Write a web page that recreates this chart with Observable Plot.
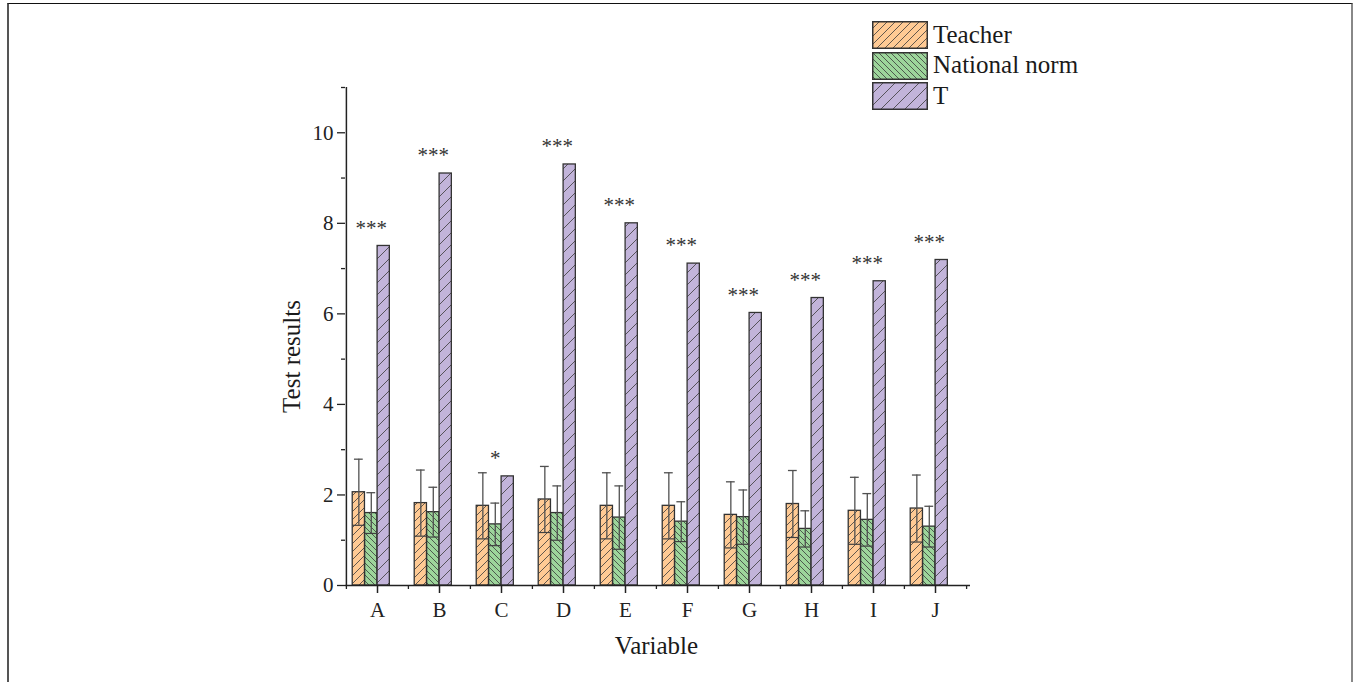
<!DOCTYPE html>
<html>
<head>
<meta charset="utf-8">
<script src="https://cdn.jsdelivr.net/npm/d3@7"></script>
<script src="https://cdn.jsdelivr.net/npm/@observablehq/plot@0.6"></script>
<style>
  html, body { margin: 0; padding: 0; background: #fff; }
  #wrap { position: relative; width: 1365px; height: 682px; overflow: hidden; font-family: 'Liberation Serif', 'Times New Roman', serif; }
  #frame { position: absolute; left: 7px; top: 3px; width: 1346px; height: 720px; border-top: 1px solid #111; border-left: 2px solid #555; border-right: 2px solid #888; box-sizing: border-box; }
  #chart { position: absolute; left: 0; top: 0; }
  #legend { position: absolute; left: 872px; top: 20px; }
  .row { display: flex; align-items: center; height: 30.5px; }
  .row svg { display: block; }
  .row span { margin-left: 5px; font-size: 25px; color: #1a1a1a; line-height: 1; position: relative; top: -1px; }
</style>
</head>
<body>
<div id="wrap">
  <svg width="0" height="0" style="position:absolute">
    <defs>
      <pattern id="hatchTeacher" patternUnits="userSpaceOnUse" width="8" height="8">
        <rect width="8" height="8" fill="#FFCA94"></rect>
        <path d="M0,8 L8,0 M-2,2 L2,-2 M6,10 L10,6" stroke="#3a3a3a" stroke-width="0.8"></path>
      </pattern>
      <pattern id="hatchNorm" patternUnits="userSpaceOnUse" width="6" height="6">
        <rect width="6" height="6" fill="#9DD59B"></rect>
        <path d="M0,0 L6,6 M-1.5,4.5 L1.5,7.5 M4.5,-1.5 L7.5,1.5" stroke="#3a3a3a" stroke-width="0.8"></path>
      </pattern>
      <pattern id="hatchT" patternUnits="userSpaceOnUse" width="12" height="12">
        <rect width="12" height="12" fill="#C2B4DA"></rect>
        <path d="M0,12 L12,0 M-3,3 L3,-3 M9,15 L15,9" stroke="#3a3a3a" stroke-width="0.8"></path>
      </pattern>
    </defs>
  </svg>
  <div id="frame"></div>
  <div id="chart"></div>
  <div id="legend"></div>
</div>
<script>
// ---- data ----
const categories = ["A", "B", "C", "D", "E", "F", "G", "H", "I", "J"];
const seriesNames = ["Teacher", "National norm", "T"];
const teacherMean = [2.06, 1.82, 1.76, 1.90, 1.76, 1.76, 1.56, 1.80, 1.65, 1.70];
const teacherSD   = [0.73, 0.73, 0.73, 0.73, 0.73, 0.73, 0.73, 0.74, 0.74, 0.74];
const normMean    = [1.60, 1.62, 1.35, 1.60, 1.50, 1.41, 1.51, 1.25, 1.45, 1.30];
const normSD      = [0.45, 0.55, 0.47, 0.60, 0.70, 0.44, 0.60, 0.40, 0.58, 0.45];
const tValues     = [7.50, 9.10, 2.41, 9.30, 8.00, 7.11, 6.02, 6.35, 6.72, 7.19];
const significance = ["***", "***", "*", "***", "***", "***", "***", "***", "***", "***"];
const yMajorTicks = [0, 2, 4, 6, 8, 10];
const yMinorTicks = [1, 3, 5, 7, 9, 11];
const patternFills = ["url(#hatchTeacher)", "url(#hatchNorm)", "url(#hatchT)"];

// ---- layout ----
const W = 1365, H = 682, ML = 345, MR = 398, MT = 87, MB = 97;
const bw = (W - ML - MR) / categories.length;
// bar slots inside each band (fractions of band width)
const slotStart = [0.1, 0.3, 0.5], slotW = 0.2;
const insL = i => slotStart[i] * bw;
const insR = i => bw - (slotStart[i] + slotW) * bw;
const centerDx = i => (slotStart[i] + slotW / 2 - 0.5) * bw;
const capHalf = 4.5;

const rows = [];
categories.forEach((c, k) => {
  rows.push({category: c, series: "Teacher", value: teacherMean[k], sd: teacherSD[k]});
  rows.push({category: c, series: "National norm", value: normMean[k], sd: normSD[k]});
  rows.push({category: c, series: "T", value: tValues[k], sd: null, sig: significance[k]});
});
const bySeries = s => rows.filter(d => d.series === s);

const marks = [];
seriesNames.forEach((s, i) => {
  marks.push(Plot.barY(bySeries(s), {
    x: "category", y: "value", fill: "series",
    stroke: "#333", strokeWidth: 1.3,
    insetLeft: insL(i), insetRight: insR(i)
  }));
});
// error bars
[0, 1].forEach(i => {
  const data = bySeries(seriesNames[i]);
  marks.push(Plot.ruleX(data, {
    x: "category", y1: d => d.value - d.sd, y2: d => d.value + d.sd,
    dx: centerDx(i), stroke: "#505050", strokeWidth: 1.3
  }));
  const c = (slotStart[i] + slotW / 2) * bw;
  marks.push(Plot.tickY(data, {
    x: "category", y: d => d.value + d.sd,
    insetLeft: c - capHalf, insetRight: bw - c - capHalf,
    stroke: "#505050", strokeWidth: 1.3
  }));
  marks.push(Plot.tickY(data, {
    x: "category", y: d => d.value - d.sd,
    insetLeft: insL(i), insetRight: insR(i),
    stroke: "#404040", strokeWidth: 1.2
  }));
});
// significance marks
marks.push(Plot.text(bySeries("T"), {
  x: "category", y: "value", text: "sig", dx: centerDx(1), dy: -18,
  fontSize: 21, fill: "#333"
}));
// axes
marks.push(Plot.ruleY([0], {stroke: "#222", strokeWidth: 1.5, insetRight: -3}));
marks.push(Plot.ruleX(["A"], {dx: -bw / 2, stroke: "#222", strokeWidth: 1.5}));
marks.push(Plot.axisY({ticks: yMajorTicks, tickSize: 8, tickPadding: 4, fontSize: 21, stroke: "#222", strokeWidth: 1.3, fill: "#222", label: null}));
marks.push(Plot.axisY({ticks: yMinorTicks, tickSize: 4, text: null, stroke: "#222", strokeWidth: 1.3, label: null}));
marks.push(Plot.axisX({tickSize: 8, tickPadding: 9, fontSize: 21, stroke: "#222", strokeWidth: 1.5, fill: "#222", label: null}));
marks.push(Plot.axisX({tickSize: 4, text: null, dx: -bw / 2, stroke: "#222", strokeWidth: 1.3, label: null}));
marks.push(Plot.axisX({ticks: [categories[categories.length - 1]], tickSize: 4, text: null, dx: bw / 2, stroke: "#222", strokeWidth: 1.3, label: null}));
// axis titles
marks.push(Plot.text(["Test results"], {frameAnchor: "left", textAnchor: "middle", rotate: -90, dx: -54, dy: 20, fontSize: 25, fill: "#1a1a1a"}));
marks.push(Plot.text(["Variable"], {frameAnchor: "bottom", dy: 68, fontSize: 25, fill: "#1a1a1a"}));

const chart = Plot.plot({
  width: W, height: H,
  marginLeft: ML, marginRight: MR, marginTop: MT, marginBottom: MB,
  x: {type: "band", domain: categories, padding: 0, axis: null},
  y: {domain: [0, 11], axis: null},
  color: {type: "ordinal", domain: seriesNames, range: patternFills},
  style: {fontFamily: "'Liberation Serif', 'Times New Roman', serif", fontSize: "20px", color: "#222", background: "transparent"},
  marks
});
document.getElementById("chart").appendChild(chart);

// legend
const legend = document.getElementById("legend");
seriesNames.forEach((s, i) => {
  const row = document.createElement("div");
  row.className = "row";
  row.innerHTML = `<svg width="56" height="28"><rect x="0.75" y="0.75" width="54.5" height="26.5" fill="${patternFills[i]}" stroke="#333" stroke-width="1.5"></rect></svg><span>${s}</span>`;
  legend.appendChild(row);
});
</script>
</body>
</html>
